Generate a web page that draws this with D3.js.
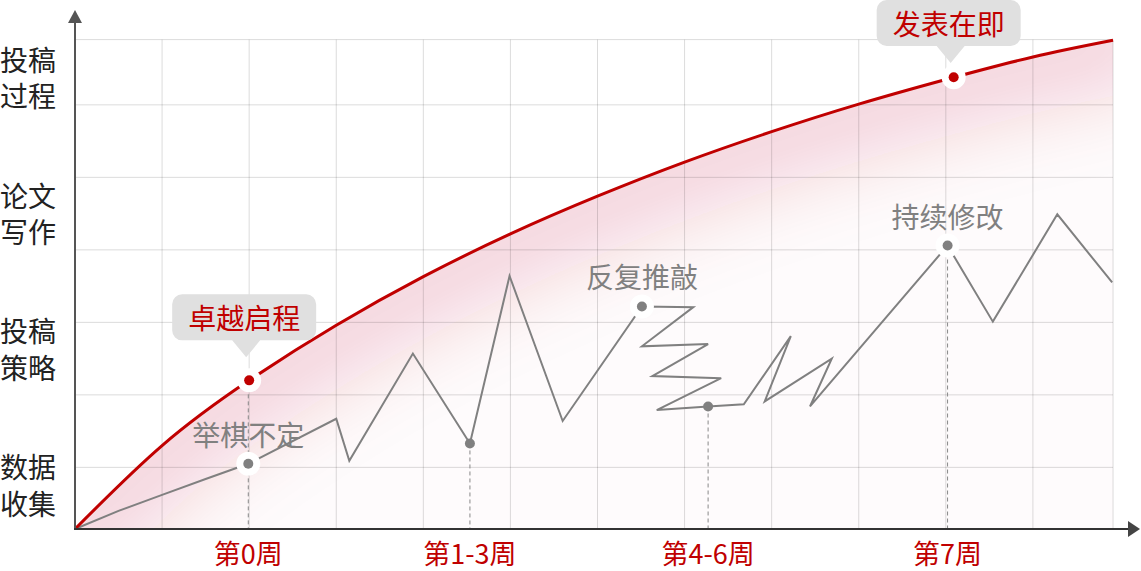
<!DOCTYPE html>
<html>
<head>
<meta charset="utf-8">
<script src="https://cdn.jsdelivr.net/npm/d3@7"></script>
<style>
  body { margin: 0; background: #fff; }
  svg { display: block; font-family: "Noto Sans CJK SC", "Noto Sans", sans-serif; }
</style>
</head>
<body>
<svg id="chart" width="1141" height="571"></svg>
<script>
// stage labels on the y axis (bottom to top), two lines each
const stageLabels = [["数据", "收集"], ["投稿", "策略"], ["论文", "写作"], ["投稿", "过程"]];

// week labels under the x axis and where they sit (grid columns)
const weekLabels = ["第0周", "第1-3周", "第4-6周", "第7周"];
const weekX = [1.99, 4.535, 7.27, 10.02];
const weekTopY = [1.2, 0.33, 0.84, 3.06];

// ideal path (red curve)
const idealX = [0, 1, 2, 3, 4, 5, 6, 7, 8, 9, 10, 11, 11.92];
const idealY = [-0.85, 0.3, 1.2, 1.96, 2.63, 3.22, 3.74, 4.21, 4.63, 5.01, 5.35, 5.66, 5.89];

// real path (grey zigzag)
const realX = [0, 0.5, 1, 1.5, 1.99, 3, 3.15, 3.88, 4.535, 4.99, 5.6, 6.51, 7.1, 6.51, 7.27, 6.63, 7.42, 6.68, 7.27, 7.68, 8.22, 7.92, 8.69, 8.44, 10.02, 10.54, 11.28, 11.91];
const realY = [-0.85, -0.6, -0.38, -0.16, 0.05, 0.67, 0.09, 1.57, 0.33, 2.64, 0.64, 2.22, 2.21, 1.67, 1.7, 1.26, 1.23, 0.79, 0.84, 0.87, 1.81, 0.91, 1.5, 0.84, 3.06, 2.01, 3.49, 2.55];

// milestones on the red curve
const redNames = ["卓越启程", "发表在即"];
const redX = [2, 10.09];
const redY = [1.2, 5.38];

// labelled points on the grey line
const greyNames = ["举棋不定", "反复推敲", "持续修改"];
const greyX = [1.99, 6.51, 10.02];
const greyY = [0.05, 2.22, 3.06];

// small unlabelled points
const smallX = [4.535, 7.27];
const smallY = [0.33, 0.84];

const colX = [1, 2, 3, 4, 5, 6, 7, 8, 9, 10, 11, 11.92];
const rowY = [0, 1, 2, 3, 4, 5, 5.9];

const svg = d3.select("#chart");
const red = "#c00000", grey = "#808080";

const x = d3.scaleLinear().domain([0, 12]).range([75, 1120]);
const y = d3.scaleLinear().domain([-0.85, 5.9]).range([529, 39.6]);
const xEnd = 11.92;

const ideal = idealX.map((d, i) => [d, idealY[i]]);
const areaGen = d3.area().curve(d3.curveNatural).x(d => x(d[0])).y0(y(-0.85)).y1(d => y(d[1]));
const lineGen = d3.line().curve(d3.curveNatural).x(d => x(d[0])).y(d => y(d[1]));

// soft pink glow under the curve
const defs = svg.append("defs");
defs.append("clipPath").attr("id", "under").append("path").attr("d", areaGen(ideal));
defs.append("filter").attr("id", "blur")
  .attr("filterUnits", "userSpaceOnUse").attr("x", -200).attr("y", -300).attr("width", 1600).attr("height", 1200)
  .append("feGaussianBlur").attr("stdDeviation", 38);

const glow = svg.append("g").attr("clip-path", "url(#under)");
glow.append("path").attr("d", areaGen(ideal)).attr("fill", "rgb(190,20,40)").attr("fill-opacity", 0.015);
glow.append("path").datum(ideal)
  .attr("fill", "none").attr("stroke", "rgb(190,20,40)").attr("stroke-opacity", 0.15)
  .attr("stroke-width", 110).attr("stroke-linecap", "round")
  .attr("filter", "url(#blur)").attr("d", lineGen);

// grid
svg.append("g").selectAll("line").data(colX).join("line")
  .attr("x1", d => x(d)).attr("x2", d => x(d))
  .attr("y1", y(-0.85)).attr("y2", y(5.9))
  .attr("stroke", "rgba(0,0,0,0.14)").attr("stroke-width", 1);
svg.append("g").selectAll("line").data(rowY).join("line")
  .attr("x1", x(0)).attr("x2", x(xEnd))
  .attr("y1", d => y(d)).attr("y2", d => y(d))
  .attr("stroke", "rgba(0,0,0,0.14)").attr("stroke-width", 1);

// dashed drop lines
svg.append("g").selectAll("line").data(weekX).join("line")
  .attr("x1", d => x(d)).attr("x2", d => x(d))
  .attr("y1", (d, i) => y(weekTopY[i])).attr("y2", y(-0.85))
  .attr("stroke", "#888").attr("stroke-width", 1).attr("stroke-dasharray", "4,3");

// grey real path
const real = realX.map((d, i) => [d, realY[i]]);
svg.append("path").datum(real)
  .attr("fill", "none").attr("stroke", grey).attr("stroke-width", 2)
  .attr("d", d3.line().x(d => x(d[0])).y(d => y(d[1])));

// red ideal curve
svg.append("path").datum(ideal)
  .attr("fill", "none").attr("stroke", red).attr("stroke-width", 3)
  .attr("d", lineGen);

// small grey points
svg.append("g").selectAll("circle").data(smallX).join("circle")
  .attr("cx", d => x(d)).attr("cy", (d, i) => y(smallY[i])).attr("r", 5).attr("fill", grey);

// labelled grey points
const g1 = svg.append("g").selectAll("g").data(greyNames).join("g")
  .attr("transform", (d, i) => "translate(" + x(greyX[i]) + "," + y(greyY[i]) + ")");
g1.append("circle").attr("r", 12).attr("fill", "#fff");
g1.append("circle").attr("r", 5).attr("fill", grey);
g1.append("text").attr("y", -30).attr("text-anchor", "middle").attr("dominant-baseline", "central")
  .attr("font-size", 28).attr("fill", grey).text(d => d);

// red milestones with callouts
const bw = 144, bh = 46;
const g2 = svg.append("g").selectAll("g").data(redNames).join("g");
g2.each(function(d, i) {
  const g = d3.select(this);
  const cx = x(redX[i]), cy = y(redY[i]);
  const top = Math.max(cy - 86, 0), bottom = top + bh, bx = cx - 5, ax = cx - 3;
  const p = d3.path();
  const r = 10, l = bx - bw / 2, rt = bx + bw / 2;
  p.moveTo(l + r, top);
  p.lineTo(rt - r, top); p.arcTo(rt, top, rt, top + r, r);
  p.lineTo(rt, bottom - r); p.arcTo(rt, bottom, rt - r, bottom, r);
  p.lineTo(ax + 14, bottom); p.lineTo(ax, bottom + 17); p.lineTo(ax - 14, bottom);
  p.lineTo(l + r, bottom); p.arcTo(l, bottom, l, bottom - r, r);
  p.lineTo(l, top + r); p.arcTo(l, top, l + r, top, r);
  p.closePath();
  g.append("path").attr("d", p.toString()).attr("fill", "#e0e0e0");
  g.append("text").attr("x", bx).attr("y", top + bh / 2).attr("text-anchor", "middle")
    .attr("dominant-baseline", "central").attr("font-size", 28).attr("fill", red).text(d);
  g.append("circle").attr("cx", cx).attr("cy", cy).attr("r", 12).attr("fill", "#fff");
  g.append("circle").attr("cx", cx).attr("cy", cy).attr("r", 5).attr("fill", red);
});

// axes with arrows
svg.append("line").attr("x1", x(0)).attr("x2", x(0)).attr("y1", y(-0.85) + 1).attr("y2", 22)
  .attr("stroke", "#555").attr("stroke-width", 2);
svg.append("path").attr("d", "M" + x(0) + ",10L" + (x(0) + 7) + ",23L" + (x(0) - 7) + ",23Z").attr("fill", "#555");
svg.append("line").attr("x1", x(0) - 1).attr("x2", 1129).attr("y1", y(-0.85)).attr("y2", y(-0.85))
  .attr("stroke", "#333").attr("stroke-width", 2);
svg.append("path").attr("d", "M1140," + y(-0.85) + "L1128," + (y(-0.85) - 8) + "L1128," + (y(-0.85) + 8) + "Z").attr("fill", "#444");

// week labels
svg.append("g").selectAll("text").data(weekLabels).join("text")
  .attr("x", (d, i) => x(weekX[i])).attr("y", 564)
  .attr("text-anchor", "middle")
  .attr("font-size", 27).attr("fill", red).text(d => d);

// stage labels
const ys = d3.scalePoint().domain(stageLabels.map(d => d.join(""))).range([484.5, 77]);
const st = svg.append("g").selectAll("text").data(stageLabels).join("text")
  .attr("font-size", 28).attr("fill", "#222");
st.selectAll("tspan").data(d => d.map((t, k) => ({t: t, k: k, c: ys(d.join(""))}))).join("tspan")
  .attr("x", 0).attr("y", d => d.c + (d.k === 0 ? -18.3 : 18.3))
  .attr("dominant-baseline", "central").text(d => d.t);
</script>
</body>
</html>
